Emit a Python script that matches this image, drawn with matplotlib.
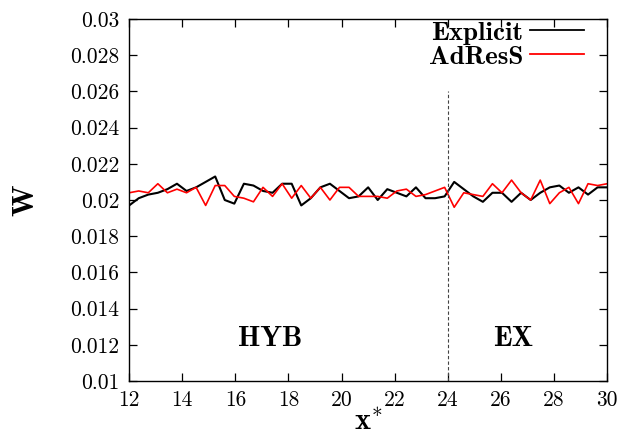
'''################################################################
#
# @file: plot.py
#
# @Description:
#   W frente a x* para Explicit y AdResS, con la interfaz
#   HYB / EX marcada en x* = 24.
#
################################################################'''
import matplotlib
matplotlib.use("Agg")
import matplotlib.pyplot as plt

# Datos
x_vals = [12.00, 12.36, 12.72, 13.08, 13.44, 13.80, 14.16, 14.52, 14.88,
          15.24, 15.60, 15.96, 16.32, 16.68, 17.04, 17.40, 17.76, 18.12,
          18.48, 18.84, 19.20, 19.56, 19.92, 20.28, 20.64, 21.00, 21.36,
          21.72, 22.08, 22.44, 22.80, 23.16, 23.52, 23.88, 24.24, 24.60,
          24.96, 25.32, 25.68, 26.04, 26.40, 26.76, 27.12, 27.48, 27.84,
          28.20, 28.56, 28.92, 29.28, 29.64, 30.00]

w_explicit = [0.0197, 0.0201, 0.0203, 0.0204, 0.0206, 0.0209, 0.0205,
              0.0207, 0.0210, 0.0213, 0.0200, 0.0198, 0.0209, 0.0208,
              0.0205, 0.0204, 0.0209, 0.0209, 0.0197, 0.0201, 0.0207,
              0.0209, 0.0205, 0.0201, 0.0202, 0.0207, 0.0200, 0.0206,
              0.0204, 0.0202, 0.0207, 0.0201, 0.0201, 0.0202, 0.0210,
              0.0206, 0.0202, 0.0199, 0.0204, 0.0204, 0.0199, 0.0204,
              0.0200, 0.0204, 0.0207, 0.0208, 0.0204, 0.0207, 0.0203,
              0.0207, 0.0207]

w_adress = [0.0204, 0.0205, 0.0204, 0.0209, 0.0204, 0.0206, 0.0204,
            0.0207, 0.0197, 0.0208, 0.0208, 0.0202, 0.0201, 0.0199,
            0.0207, 0.0202, 0.0209, 0.0201, 0.0208, 0.0201, 0.0207,
            0.0200, 0.0207, 0.0207, 0.0202, 0.0202, 0.0202, 0.0201,
            0.0205, 0.0206, 0.0202, 0.0203, 0.0205, 0.0207, 0.0196,
            0.0204, 0.0203, 0.0202, 0.0209, 0.0204, 0.0211, 0.0204,
            0.0200, 0.0211, 0.0198, 0.0204, 0.0207, 0.0198, 0.0209,
            0.0208, 0.0209]

x_ticks = [12, 14, 16, 18, 20, 22, 24, 26, 28, 30]
x_tick_labels = ["12", "14", "16", "18", "20", "22", "24", "26", "28", "30"]
y_ticks = [0.010, 0.012, 0.014, 0.016, 0.018, 0.020, 0.022, 0.024,
           0.026, 0.028, 0.030]
y_tick_labels = ["0.01", "0.012", "0.014", "0.016", "0.018", "0.02",
                 "0.022", "0.024", "0.026", "0.028", "0.03"]

interface_x = 24
interface_top = 0.026
region_labels = ["HYB", "EX"]
region_x = [17.3, 26.45]
region_y = [0.0123, 0.0123]


def main():
    plt.rcParams["mathtext.fontset"] = "cm"
    plt.rcParams["axes.formatter.use_mathtext"] = True

    fig = plt.figure(figsize=(6.24, 4.43), dpi=100)
    ax = fig.add_subplot(111)
    fig.subplots_adjust(left=0.207, right=0.973, bottom=0.140, top=0.957)

    ax.plot(x_vals, w_explicit, color="black", lw=1.5, label="Explicit")
    ax.plot(x_vals, w_adress, color="red", lw=1.2, label="AdResS")

    # Interfaz entre regiones
    ax.vlines(interface_x, y_ticks[0], interface_top, colors="#444444",
              linestyles=(0, (3, 2)), lw=0.8)
    for lab, xx, yy in zip(region_labels, region_x, region_y):
        ax.text(xx, yy, lab, fontfamily="cmb10", fontsize=20.5,
                ha="center", va="center")

    ax.set_xlim(x_ticks[0], x_ticks[-1])
    ax.set_ylim(y_ticks[0], y_ticks[-1])
    ax.set_xticks(x_ticks)
    ax.set_xticklabels(x_tick_labels, fontfamily="cmr10", fontsize=15.5)
    ax.set_yticks(y_ticks)
    ax.set_yticklabels(y_tick_labels, fontfamily="cmr10", fontsize=15.5)
    ax.tick_params(direction="in", top=True, right=True, length=6,
                   width=0.9, pad=7)
    for s in ax.spines.values():
        s.set_linewidth(1.0)

    ax.set_ylabel("W", fontfamily="cmb10", fontsize=22, labelpad=22)
    ax.set_xlabel(r"$\mathbf{x}^{*}$", fontsize=22, labelpad=-3)

    leg = ax.legend(loc="upper right", bbox_to_anchor=(0.952, 0.995),
                    frameon=False, markerfirst=False, handlelength=2.0,
                    handletextpad=0.25, labelspacing=0.0,
                    borderpad=0.0, borderaxespad=0.0,
                    prop={"family": "cmb10", "size": 19.5})
    for h in leg.get_lines():
        h.set_linewidth(1.3)

    fig.savefig("out.png", dpi=100)
    return


if __name__ == '__main__':
    main()
